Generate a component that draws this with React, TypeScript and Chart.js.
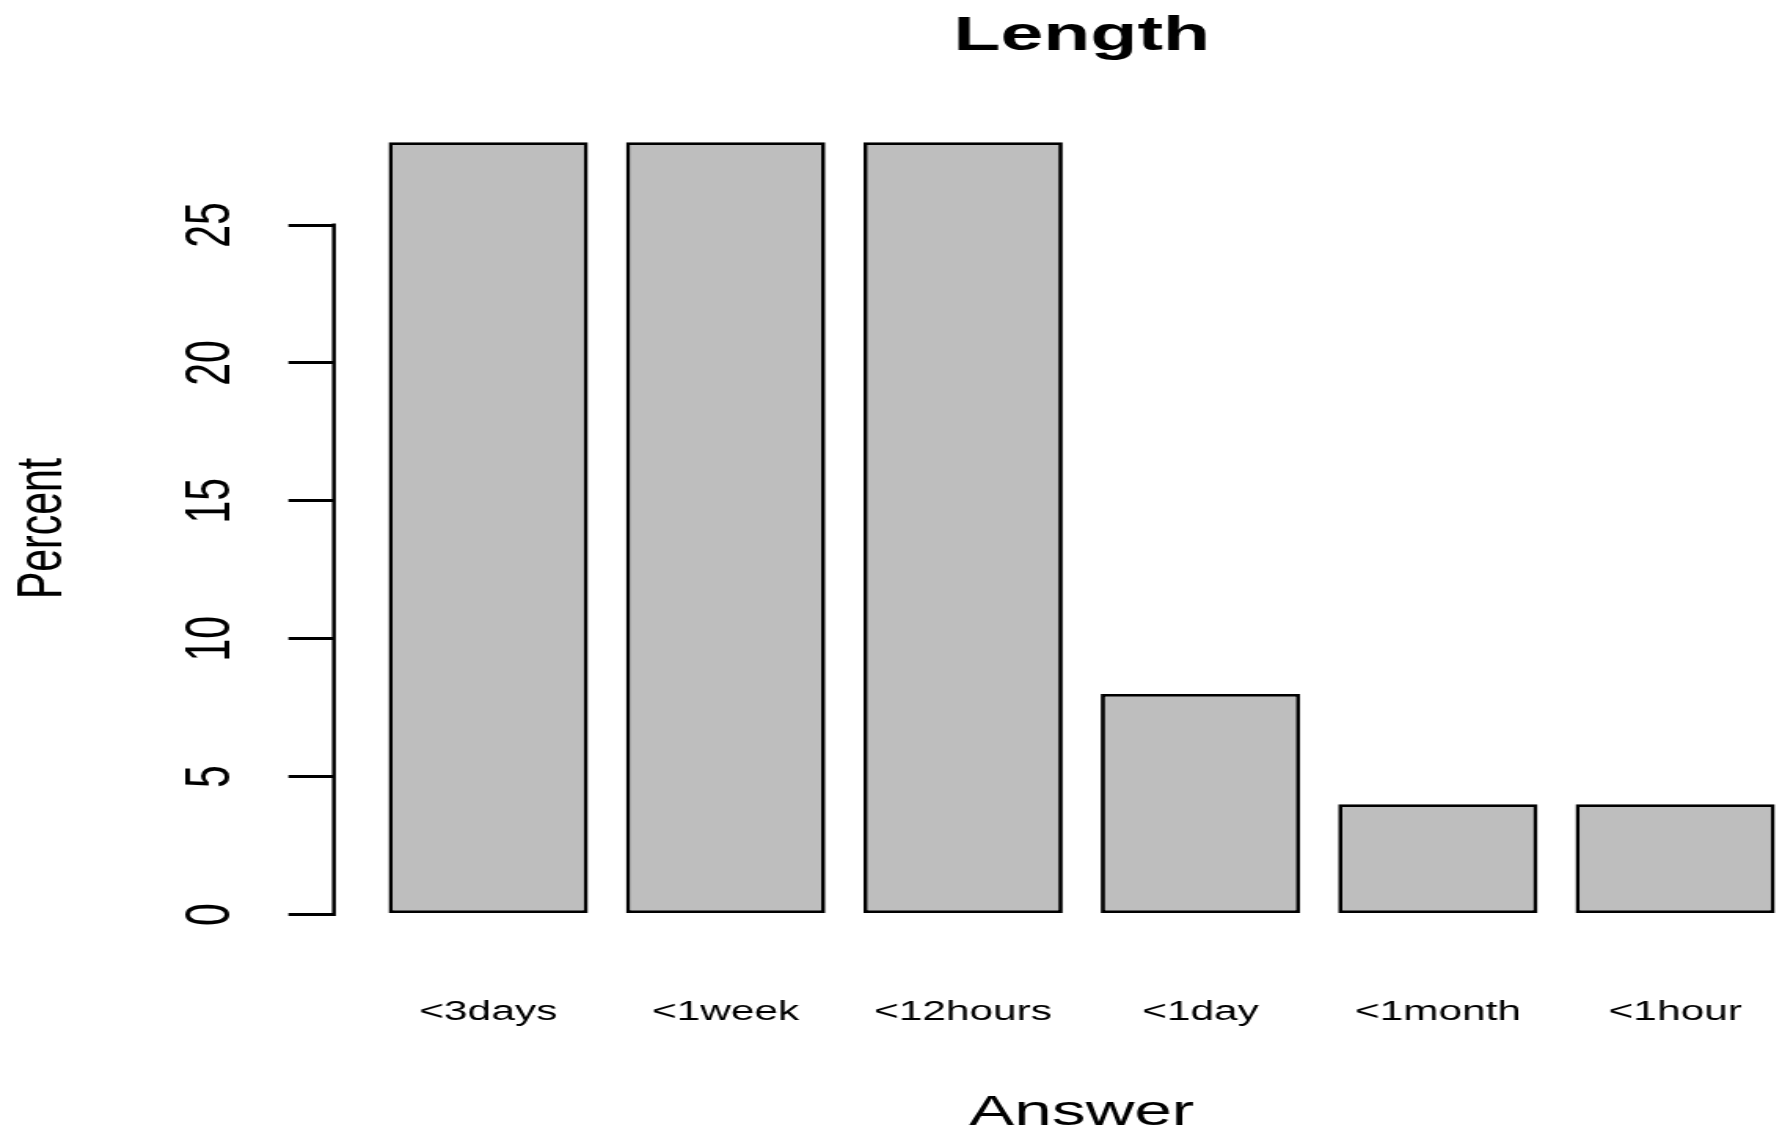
import React, { useEffect, useRef } from "react";
import { Chart, registerables } from "chart.js";

Chart.register(...registerables);

// ---- data ----
const categories = ["<3days", "<1week", "<12hours", "<1day", "<1month", "<1hour"];
const percents = [28, 28, 28, 8, 4, 4];
// bar mid-points on the x axis (R barplot positions, width 1, space 0.2)
const barPositions = [0.7, 1.9, 3.1, 4.3, 5.5, 6.7];
const yTicks = [0, 5, 10, 15, 20, 25];
const chartTitle = "Length";
const xTitle = "Answer";
const yTitle = "Percent";

// ---- layout / style ----
const STRETCH = 1.57; // the reference image is stretched horizontally
const CW = 1200;
const CH = 1133;
const FONT = "'Liberation Sans', Arial, Helvetica, sans-serif";

const axisLinePlugin = {
  id: "rAxisLine",
  afterDraw(chart: any) {
    const ys = chart.scales.y;
    const ctx = chart.ctx;
    const x = ys.right;
    ctx.save();
    ctx.strokeStyle = "#000";
    ctx.lineWidth = 2.5;
    ctx.beginPath();
    ctx.moveTo(x, ys.getPixelForValue(yTicks[0]) + 1.5);
    ctx.lineTo(x, ys.getPixelForValue(yTicks[yTicks.length - 1]) - 1.5);
    ctx.stroke();
    ctx.restore();
  },
};

export default function App() {
  const ref = useRef<HTMLCanvasElement | null>(null);
  useEffect(() => {
    if (!ref.current) return;
    const chart = new Chart(ref.current, {
      type: "bar",
      data: {
        datasets: [
          {
            data: barPositions.map((x, i) => ({ x, y: percents[i] })),
            backgroundColor: "#BEBEBE",
            borderColor: "#000000",
            borderWidth: 2.8,
            borderSkipped: false,
            categoryPercentage: 1,
            barPercentage: 0.84,
          },
        ],
      },
      options: {
        responsive: false,
        animation: false,
        devicePixelRatio: 1,
        layout: { padding: { left: 0, right: 34.7, top: 0, bottom: 0 } },
        plugins: {
          legend: { display: false },
          tooltip: { enabled: false },
          title: {
            display: true,
            text: chartTitle,
            fullSize: false,
            color: "#000",
            font: { family: FONT, size: 49, weight: "bold" },
            padding: { top: 7, bottom: 45.6 },
          },
        },
        scales: {
          x: {
            type: "linear",
            min: -0.08,
            max: 7.48,
            offset: false,
            afterBuildTicks: (scale: any) => {
              scale.ticks = barPositions.map((v) => ({ value: v }));
            },
            afterFit: (scale: any) => {
              scale.height = 187.6;
            },
            ticks: {
              autoSkip: false,
              maxRotation: 0,
              minRotation: 0,
              color: "#000",
              padding: 51,
              font: { family: FONT, size: 27 },
              callback: (_v: any, i: number) => categories[i],
            },
            grid: { display: false, drawTicks: false, offset: false },
            border: { display: false },
            title: {
              display: true,
              text: xTitle,
              color: "#000",
              font: { family: FONT, size: 43 },
              padding: { top: 6, bottom: -5.5 },
            },
          },
          y: {
            type: "linear",
            min: -1.12,
            max: 29.12,
            afterBuildTicks: (scale: any) => {
              scale.ticks = yTicks.map((v) => ({ value: v }));
            },
            afterFit: (scale: any) => {
              scale.width = 212.7;
            },
            ticks: {
              color: "#000",
              minRotation: 90,
              maxRotation: 90,
              crossAlign: "center",
              padding: 26,
              font: { family: FONT, size: 41 },
            },
            grid: {
              display: true,
              drawOnChartArea: false,
              drawTicks: true,
              tickLength: 29,
              color: "#000",
              lineWidth: 3,
            },
            border: { display: false },
            title: {
              display: true,
              text: yTitle,
              color: "#000",
              font: { family: FONT, size: 41 },
              padding: { top: 3, bottom: 29 },
            },
          },
        },
      },
      plugins: [axisLinePlugin],
    } as any);
    return () => chart.destroy();
  }, []);

  return (
    <div
      style={{
        position: "fixed",
        left: 0,
        top: 0,
        width: "1781px",
        height: "1133px",
        overflow: "hidden",
        background: "#fff",
      }}
    >
      <canvas
        ref={ref}
        width={CW}
        height={CH}
        style={{ display: "block", width: `${CW * STRETCH}px`, height: `${CH}px` }}
      />
    </div>
  );
}
